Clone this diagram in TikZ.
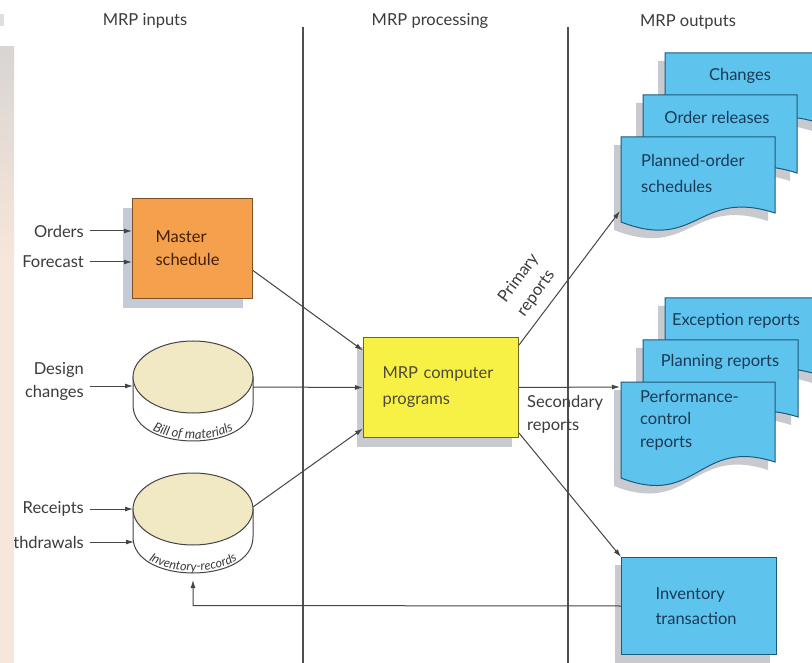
\documentclass[tikz,border=0pt]{standalone}
\usepackage{fontspec}
\setmainfont{Lato}
\usetikzlibrary{arrows.meta,decorations.text}
\definecolor{docfillc}{HTML}{5EC4EE}
\definecolor{doclinec}{HTML}{1B5A7A}
\definecolor{doctextc}{HTML}{1A3A55}
\definecolor{orangec}{HTML}{F5A04C}
\definecolor{orangelinec}{HTML}{7E5124}
\definecolor{yellowc}{HTML}{F8F145}
\definecolor{yellowlinec}{HTML}{6B6620}
\definecolor{beigec}{HTML}{F1E9C3}
\definecolor{shadowc}{HTML}{C8CACF}
\definecolor{shadowbluec}{HTML}{C4CAD8}
\definecolor{labelc}{HTML}{3C3C3C}
\definecolor{linec}{HTML}{454545}
\definecolor{divc}{HTML}{505050}
\definecolor{stripgreyc}{HTML}{D9D5D2}
\definecolor{strippeachc}{HTML}{F7E6DA}
\newcommand{\mydocshape}[3]{(0,0) -- (#1,0) -- (#1,#3) .. controls ({0.5*#1},{#3-25}) and ({0.5*#1},{#2+30}) .. (0,#2) -- cycle}
\newcommand{\mydoc}[5]{%
  \begin{scope}[shift={(#1-7,#2+8)}]\fill[shadowc] \mydocshape{#3}{#4}{#5};\end{scope}
  \begin{scope}[shift={(#1,#2)}]\filldraw[fill=docfillc,draw=doclinec,line width=1pt] \mydocshape{#3}{#4}{#5};\end{scope}}
\newcommand{\mycyl}[4]{% cx cy rx ry ; depth 28
  \filldraw[fill=white,draw=linec,line width=1pt] (#1-#3,#2) -- (#1-#3,#2+28) .. controls (#1-#3,{#2+28+1.333*#4}) and (#1+#3,{#2+28+1.333*#4}) .. (#1+#3,#2+28) -- (#1+#3,#2) -- cycle;
  \filldraw[fill=beigec,draw=linec,line width=1pt] (#1,#2) ellipse [x radius=#3pt, y radius=#4pt];}
\begin{document}
\begin{tikzpicture}[x=1pt,y=-1pt,
  lbl/.style={font=\fontsize{16.5}{23}\selectfont, text=labelc, inner sep=0pt},
  doctxt/.style={font=\fontsize{16.5}{23}\selectfont, text=doctextc, inner sep=0pt, align=left},
  ln/.style={draw=linec, line width=1pt},
  arr/.style={ln, -{Latex[length=8pt,width=5pt]}},
  divider/.style={draw=divc, line width=1.4pt},
  cyltext/.style={decorate, decoration={text along path, text align=center, text color=labelc}}]
\useasboundingbox (0,0) rectangle (812,663);
\clip (0,0) rectangle (812,663);
\fill[white] (0,0) rectangle (812,663);

% column headers
\node[lbl] (hin) at (145,21) {MRP inputs};
\node[lbl] (hproc) at (430,21) {MRP processing};
\node[lbl] (hout) at (688,22) {MRP outputs};

% dividers
\draw[divider] (303,27) -- (303,663);
\draw[divider] (568,27) -- (568,663);

% master schedule
\fill[shadowbluec] (123,208) rectangle (243,308);
\node[draw=orangelinec, fill=orangec, line width=1pt, minimum width=120pt, minimum height=100pt,
  anchor=north west, inner xsep=23pt, inner ysep=0pt, text width=74pt, align=left,
  font=\fontsize{16.5}{23}\selectfont, text=black!75!orange] (ms) at (132,198) {Master\\schedule};

% MRP computer programs
\fill[shadowc] (357,347) rectangle (512,447);
\node[draw=yellowlinec, fill=yellowc, line width=1pt, minimum width=155pt, minimum height=100pt,
  anchor=north west, inner xsep=19pt, inner ysep=0pt, text width=117pt, align=left,
  font=\fontsize{16.5}{26}\selectfont, text=black!80!yellow] (mrp) at (363,337) {MRP computer\\programs};

% inventory transaction
\fill[shadowc] (615,565) rectangle (770,663);
\node[draw=doclinec, fill=docfillc, line width=1pt, minimum width=155pt, minimum height=97pt,
  anchor=north west, inner xsep=34pt, inner ysep=0pt, text width=87pt, align=left,
  font=\fontsize{16.5}{25}\selectfont, text=doctextc] (invt) at (621,557) {Inventory\\transaction};

% cylinders
\mycyl{193}{377}{60}{36}
\coordinate (bom) at (193,377);
\path[cyltext, decoration={text={|\fontsize{13}{13}\selectfont\itshape|Bill of materials}}]
  (133,403) .. controls (133,451) and (253,451) .. (253,403);
\mycyl{193}{509}{60}{36}
\coordinate (invrec) at (193,509);
\path[cyltext, decoration={text={|\fontsize{12.5}{12.5}\selectfont\itshape|Inventory-records}}]
  (133,535) .. controls (133,583) and (253,583) .. (253,535);

% input labels
\node[lbl, anchor=east] (orders) at (84,231) {Orders};
\node[lbl, anchor=east] (forecast) at (84,262) {Forecast};
\node[lbl, anchor=east, align=right] (design) at (84,381) {Design\\changes};
\node[lbl, anchor=east] (receipts) at (84,509) {Receipts};
\node[lbl, anchor=east] (withdr) at (84,542) {Withdrawals};

\draw[arr] (orders.east) ++(6,0) -- (ms.west |- orders.east);
\draw[arr] (forecast.east) ++(6,0) -- (ms.west |- forecast.east);
\draw[arr] (90,386) -- (133,386);
\draw[arr] (90,509) -- (133,509);
\draw[arr] (90,542) -- (134,542);

% documents stack 1
\mydoc{665}{53}{154}{80}{70}
\mydoc{643}{95}{154}{85}{78}
\mydoc{621}{137}{154}{85}{76}
\node[doctxt] (chg) at (740,76) {Changes};
\node[doctxt] (ordrel) at (717,117) {Order releases};
\node[doctxt, anchor=west, font=\fontsize{16.5}{26}\selectfont] (pos) at (641,173) {Planned-order\\schedules};
\coordinate (posin) at (620,211);

% documents stack 2
\mydoc{665}{298}{154}{85}{77}
\mydoc{643}{340}{155}{90}{77}
\mydoc{621}{382}{154}{96}{80}
\node[doctxt] (exc) at (736,321) {Exception reports};
\node[doctxt] (plan) at (720,362) {Planning reports};
\node[doctxt, anchor=west, font=\fontsize{16.5}{22.5}\selectfont] (perf) at (640,420) {Performance-\\control\\reports};
\coordinate (perfin) at (620,387);

% connectors into MRP
\draw[arr] ([yshift=-22pt]ms.east) -- ([yshift=37pt]mrp.west);
\draw[arr] (253,387) -- (mrp.west);
\draw[arr] (253,507) -- ([yshift=-41pt]mrp.west);

% connectors out of MRP
\draw[arr] ([yshift=-8pt]mrp.north east) -- (posin);
\draw[arr] (mrp.east) -- (perfin);
\draw[arr] ([yshift=5pt]mrp.south east) -- (invt.north west);
\draw[arr] (invt.west) -- (193,605.5) -- (193,580);

\node[lbl, rotate=54, align=left] (prim) at (528,285) {Primary\\reports};
\node[lbl, anchor=west, align=left] (sec) at (527,414) {Secondary\\reports};

% left strip
\shade[top color=stripgreyc, bottom color=strippeachc] (0,47) rectangle (14,260);
\fill[strippeachc] (0,260) rectangle (14,663);
\fill[stripgreyc!80!white] (0,14) rectangle (4,26);
\end{tikzpicture}
\end{document}
